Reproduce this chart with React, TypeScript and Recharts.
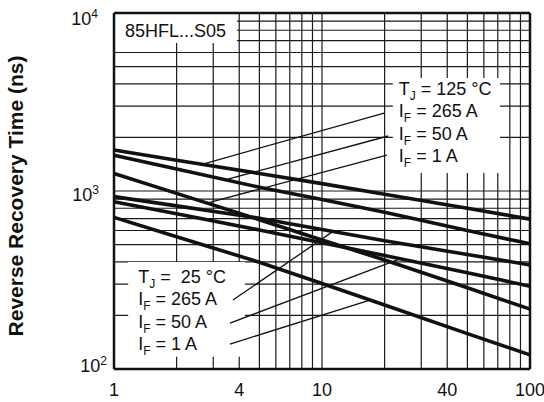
import React from 'react';
import {
  LineChart,
  Line,
  XAxis,
  YAxis,
  CartesianGrid,
  ReferenceArea,
  ReferenceLine,
} from 'recharts';

// forward current curves (ns)
const currentValues = [1, 2, 5, 10, 20, 50, 100];
const tj125If265 = [1700, 1490, 1255, 1100, 960, 800, 695];
const tj125If50 = [1590, 1330, 1050, 895, 760, 600, 505];
const tj125If1 = [1255, 970, 690, 530, 410, 286, 217];
const tj25If265 = [930, 825, 703, 608, 525, 440, 384];
const tj25If50 = [870, 745, 604, 512, 434, 347, 292];
const tj25If1 = [711, 553, 398, 302, 229, 158, 120];

const xGridTicks = [1, 2, 3, 4, 5, 6, 7, 8, 9, 10, 20, 30, 40, 50, 60, 70, 80, 90, 100];
const xLabelTicks = [1, 4, 10, 40, 100];
const yGridTicks = [
  100, 200, 300, 400, 500, 600, 700, 800, 900,
  1000, 2000, 3000, 4000, 5000, 6000, 7000, 8000, 9000, 10000,
];
const yLabelTicks = [100, 1000, 10000];

const partLabel = '85HFL...S05';
const hotLabels = [
  { main: 'T', sub: 'J', rest: ' = 125 °C' },
  { main: 'I', sub: 'F', rest: ' = 265 A' },
  { main: 'I', sub: 'F', rest: ' = 50 A' },
  { main: 'I', sub: 'F', rest: ' = 1 A' },
];
const coldLabels = [
  { main: 'T', sub: 'J', rest: ' =  25 °C' },
  { main: 'I', sub: 'F', rest: ' = 265 A' },
  { main: 'I', sub: 'F', rest: ' = 50 A' },
  { main: 'I', sub: 'F', rest: ' = 1 A' },
];

// label boxes: [x1, x2, y1, y2] in data units
const partBox = [1, 3.9, 6780, 10000];
const hotBox = [21.9, 71.8, 1262, 4313];
const coldBox = [1.17, 4.26, 117, 399];

// leader lines: [[xLabel, yLabel], [xCurve, yCurve]]
const hotLeaders = [
  [[19.9, 2742], [2.65, 1413]],
  [[20.8, 2037], [3.53, 1167]],
  [[20.5, 1592], [2.8, 855]],
];
const coldLeaders = [
  [[3.73, 244], [11.3, 593]],
  [[3.61, 181], [23.7, 416]],
  [[3.61, 138], [17.0, 244]],
];

const data = currentValues.map((x, i) => ({
  x,
  h265: tj125If265[i],
  h50: tj125If50[i],
  h1: tj125If1[i],
  c265: tj25If265[i],
  c50: tj25If50[i],
  c1: tj25If1[i],
}));

const FONT = '"Liberation Sans", Arial, Helvetica, sans-serif';

const XTick = ({ x, y, payload }: any) => {
  if (!xLabelTicks.includes(payload.value)) return <g />;
  return (
    <text x={x} y={y + 27} textAnchor="middle" fontSize={18} fontFamily={FONT} fill="#111">
      {payload.value}
    </text>
  );
};

const YTick = ({ x, y, payload }: any) => {
  if (!yLabelTicks.includes(payload.value)) return <g />;
  const exp = Math.round(Math.log10(payload.value));
  const dx = payload.value === 100 ? 7 : payload.value === 1000 ? 15 : 16;
  const dy = payload.value === 100 ? 3 : payload.value === 1000 ? 10 : 12;
  return (
    <text x={x - dx} y={y + dy} textAnchor="end" fontFamily={FONT} fill="#111">
      <tspan fontSize={18}>10</tspan>
      <tspan fontSize={12} dy={-7}>{exp}</tspan>
    </text>
  );
};

const boxText = (lines: any[], padX: number, padY: number) => (p: any) => {
  const vb = p.viewBox;
  return (
    <g>
      {lines.map((l, i) => (
        <text
          key={i}
          x={vb.x + padX}
          y={vb.y + padY + i * 22.4}
          fontSize={18}
          fontFamily={FONT}
          fill="#111"
          style={{ whiteSpace: 'pre' }}
        >
          <tspan>{l.main}</tspan>
          <tspan fontSize={12} dy={5}>{l.sub}</tspan>
          <tspan dy={-5}>{l.rest}</tspan>
        </text>
      ))}
    </g>
  );
};

const partText = (p: any) => (
  <text x={p.viewBox.x + 11} y={p.viewBox.y + 24} fontSize={18} fontFamily={FONT} fill="#111">
    {partLabel}
  </text>
);

const yLabel = () => (
  <text
    x={23}
    y={196}
    transform="rotate(-90 23 196)"
    textAnchor="middle"
    fontSize={21}
    fontWeight="bold"
    fontFamily={FONT}
    fill="#111"
  >
    Reverse Recovery Time (ns)
  </text>
);

const series = ['h265', 'h50', 'h1', 'c265', 'c50', 'c1'];

export default function App() {
  return (
    <div style={{ position: 'absolute', left: 0, top: 0, background: '#fff' }}>
      <LineChart width={544} height={402} data={data} margin={{ top: 13, right: 14, bottom: 0, left: 0 }}>
        <CartesianGrid stroke="#1a1a1a" strokeWidth={1.2} />
        <XAxis
          dataKey="x"
          type="number"
          scale="log"
          domain={[1, 100]}
          ticks={xGridTicks}
          interval={0}
          tick={<XTick />}
          tickLine={false}
          tickSize={0}
          tickMargin={0}
          height={33}
          axisLine={{ stroke: '#111', strokeWidth: 2.5 }}
        />
        <YAxis
          type="number"
          scale="log"
          domain={[100, 10000]}
          ticks={yGridTicks}
          interval={0}
          tick={<YTick />}
          tickLine={false}
          tickSize={0}
          tickMargin={0}
          width={114}
          axisLine={{ stroke: '#111', strokeWidth: 2.5 }}
          label={yLabel}
        />
        <ReferenceLine y={10000} stroke="#111" strokeWidth={2.5} />
        <ReferenceLine x={100} stroke="#111" strokeWidth={2.5} />
        <ReferenceArea
          x1={partBox[0]}
          x2={partBox[1]}
          y1={partBox[2]}
          y2={partBox[3]}
          fill="#fff"
          fillOpacity={1}
          stroke="none"
          label={partText}
        />
        <ReferenceArea
          x1={hotBox[0]}
          x2={hotBox[1]}
          y1={hotBox[2]}
          y2={hotBox[3]}
          fill="#fff"
          fillOpacity={1}
          stroke="none"
          label={boxText(hotLabels, 6, 17)}
        />
        <ReferenceArea
          x1={coldBox[0]}
          x2={coldBox[1]}
          y1={coldBox[2]}
          y2={coldBox[3]}
          fill="#fff"
          fillOpacity={1}
          stroke="none"
          label={boxText(coldLabels, 10, 21)}
        />
        {[...hotLeaders, ...coldLeaders].map((seg, i) => (
          <ReferenceLine
            key={`lead-${i}`}
            segment={[
              { x: seg[0][0], y: seg[0][1] },
              { x: seg[1][0], y: seg[1][1] },
            ]}
            stroke="#111"
            strokeWidth={1.3}
          />
        ))}
        {series.map((k) => (
          <Line
            key={k}
            dataKey={k}
            stroke="#111"
            strokeWidth={3.6}
            dot={false}
            activeDot={false}
            isAnimationActive={false}
          />
        ))}
      </LineChart>
    </div>
  );
}
